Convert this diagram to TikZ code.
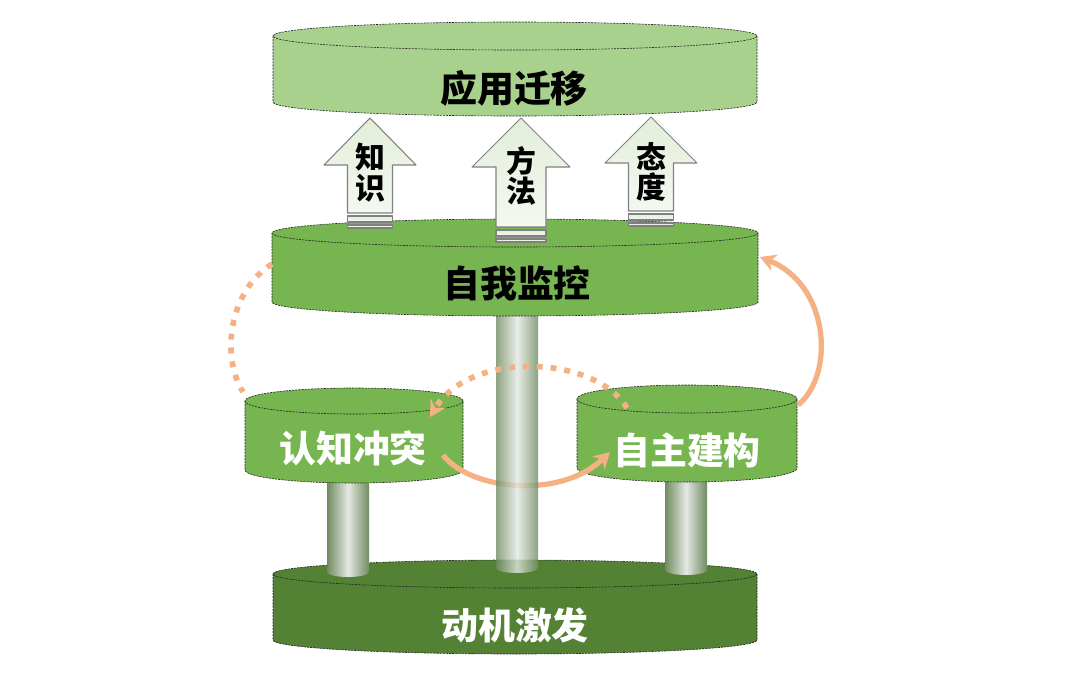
\documentclass[tikz,border=0pt]{standalone}
\usepackage{fontspec}
\newfontfamily\cjk{Noto Sans CJK SC}
\usetikzlibrary{arrows.meta}
\definecolor{lightgreen}{HTML}{A9D18E}
\definecolor{midgreen}{HTML}{76B54F}
\definecolor{darkgreen}{HTML}{548235}
\definecolor{peach}{HTML}{F4B183}
\definecolor{pillaredge}{HTML}{6F8C60}
\definecolor{pillarmid}{HTML}{E4E7E2}
\definecolor{arrowfill}{HTML}{E3EEDA}
\newcommand{\drawdisc}[6]{%
  \draw[discline,fill=#6] (#1-#4,#2) -- (#1-#4,#3) arc (180:0:#4 and #5) -- (#1+#4,#2) -- cycle;
  \draw[discline,fill=#6] (#1,#2) ellipse (#4 and #5);
}
\newcommand{\drawpillar}[5]{%
  \shade[pillar,opacity=#5] (#1-#4,#2) -- (#1-#4,#3) arc (180:0:#4 and 5) -- (#1+#4,#2) -- cycle;
}
\begin{document}
\begin{tikzpicture}[x=0.02cm,y=-0.02cm,line join=round,
	discline/.style={draw=black!85,line width=0.35pt,dash pattern=on 1.2pt off 0.6pt},
	pillar/.style={left color=pillaredge,right color=pillaredge,middle color=pillarmid},
	upbox/.style={draw=black!50,line width=0.6pt,top color=arrowfill,bottom color=arrowfill!40!white},
	darklabel/.style={font=\cjk\bfseries\fontsize{21}{25}\selectfont,text=black},
	lightlabel/.style={font=\cjk\bfseries\fontsize{21}{25}\selectfont,text=white},
	uplabel/.style={font=\cjk\bfseries\fontsize{17}{17.5}\selectfont,align=center,text=black},
	solidturn/.style={draw=peach,line width=3pt,-{Stealth[length=9pt,width=10pt]}},
	dotturn/.style={draw=peach,line width=3.2pt,dash pattern=on 3.4pt off 4.5pt}]
			\useasboundingbox (0,0) rectangle (1080,679);
			\drawdisc{515}{574}{640}{242}{14}{darkgreen}
			\drawpillar{348}{470}{572}{21}{1}
			\drawpillar{686}{468}{570}{21}{1}
			\drawdisc{354}{401}{470}{109}{13}{midgreen}
			\drawdisc{687}{399}{468}{110}{14}{midgreen}
			\node[lightlabel] (conflict) at (353,448) {认知冲突};
			\node[lightlabel] (construct) at (687,450) {自主建构};
			\node[lightlabel] (motive) at (515,625) {动机激发};
			\coordinate (conflict-r) at (443,455);
			\coordinate (construct-l) at (610,452);
			\draw[solidturn] (conflict-r) .. controls +(27,35) and +(-50,48) .. (construct-l);
			\drawpillar{517}{302}{568}{21}{0.8}
			\drawdisc{515}{233}{302}{243}{14}{midgreen}
			\node[darklabel] (monitor) at (517,283) {自我监控};
			\foreach \cx/\tipy/\basey/\hw/\sw/\boty/\ly/\name/\ta/\tb in {370/118/165/46/22.5/213/173/know/知/识, 521/118/167/49/25/227/176/method/方/法, 651/117/163/46/22.5/211/172/attitude/态/度}{
				\draw[upbox] (\cx,\tipy) -- (\cx+\hw,\basey) -- (\cx+\sw,\basey) -- (\cx+\sw,\boty) -- (\cx-\sw,\boty) -- (\cx-\sw,\basey) -- (\cx-\hw,\basey) -- cycle;
				\draw[upbox] (\cx-\sw,\boty+3) rectangle (\cx+\sw,\boty+9);
				\draw[upbox] (\cx-\sw,\boty+12) rectangle (\cx+\sw,\boty+15);
				\node[uplabel] (\name) at (\cx,\ly) {\ta\\\tb};
			}
			\drawdisc{515}{36}{102}{242}{14}{lightgreen}
			\node[darklabel] (apply) at (514,88) {应用迁移};
			\coordinate (construct-r) at (798,405);
			\coordinate (monitor-r) at (760,257);
			\coordinate (monitor-l) at (272,264);
			\coordinate (conflict-t) at (243,392);
			\coordinate (construct-t) at (627,408);
			\coordinate (conflict-tr) at (430,417);
			\draw[solidturn] (construct-r) .. controls +(37,-30) and +(70,28) .. (monitor-r);
			\draw[dotturn] (monitor-l) .. controls +(-42,26) and +(-23,-37) .. (conflict-t);
			\draw[dotturn,-{Stealth[length=9pt,width=10pt]}] (construct-t) .. controls +(-32,-53) and +(40,-67) .. (conflict-tr);
	\end{tikzpicture}
\end{document}
